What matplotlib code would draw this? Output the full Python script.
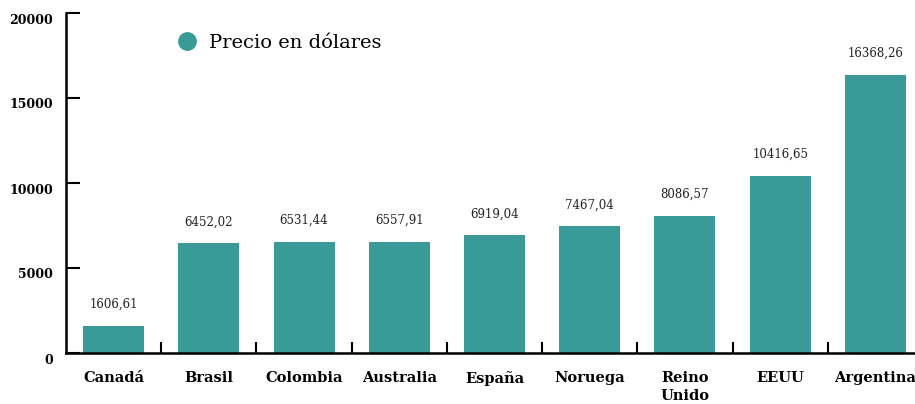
import numpy as np
import matplotlib.pyplot as plt
import matplotlib.transforms as mtransforms
from matplotlib.lines import Line2D

paises = ['Canadá', 'Brasil', 'Colombia', 'Australia', 'España', 'Noruega',
          'Reino\nUnido', 'EEUU', 'Argentina']
precios = [1606.61, 6452.02, 6531.44, 6557.91, 6919.04, 7467.04, 8086.57,
           10416.65, 16368.26]
yticks = [0, 5000, 10000, 15000, 20000]

color = '#399a98'
plt.rcParams['font.family'] = ['DejaVu Serif']

fig = plt.figure(figsize=(9.15, 4.04), dpi=100)
# el eje se extiende más allá del borde derecho, como en el original
ax = fig.add_axes([66/915, 51/404, 857/915, 340/404])

x = np.arange(len(paises))
ax.bar(x, precios, width=0.64, color=color, zorder=2)

for xi, v in zip(x, precios):
    ax.text(xi, v + 1250, f'{v:.2f}'.replace('.', ','), ha='center', va='center',
            fontsize=8.5, color='#222222')

ax.set_xlim(-0.5, len(paises) - 0.5)
ax.set_ylim(0, 20000)
ax.set_yticks(yticks)
ax.set_yticklabels([])
# etiquetas del eje y algo por debajo de su tick
desplaza = mtransforms.ScaledTranslation(-13/100, -7/100, fig.dpi_scale_trans)
for t in yticks:
    ax.text(0, t, str(t), transform=ax.get_yaxis_transform() + desplaza,
            ha='right', va='center', fontsize=9, fontweight='bold')

# ticks del eje x entre categorías, etiquetas en el centro
ax.set_xticks(x[:-1] + 0.5)
ax.set_xticklabels([])
ax.set_xticks(x, minor=True)
ax.set_xticklabels(paises, minor=True, fontsize=10.5, fontweight='bold',
                   va='top', linespacing=1.4)
ax.tick_params(axis='x', which='minor', length=0, pad=13)
ax.tick_params(axis='x', which='major', direction='in', length=8, width=1.5)
ax.tick_params(axis='y', direction='in', length=10, width=1.5)

for s in ['top', 'right']:
    ax.spines[s].set_visible(False)
for s in ['left', 'bottom']:
    ax.spines[s].set_linewidth(1.8)

handle = Line2D([], [], marker='o', linestyle='none', color=color, markersize=12.5)
fig.legend([handle], ['Precio en dólares'], loc='center left',
           bbox_to_anchor=(168/915, 1 - 43/404), frameon=False, fontsize=14,
           handletextpad=0.1, borderaxespad=0, borderpad=0)

fig.savefig('out.png', dpi=100)
